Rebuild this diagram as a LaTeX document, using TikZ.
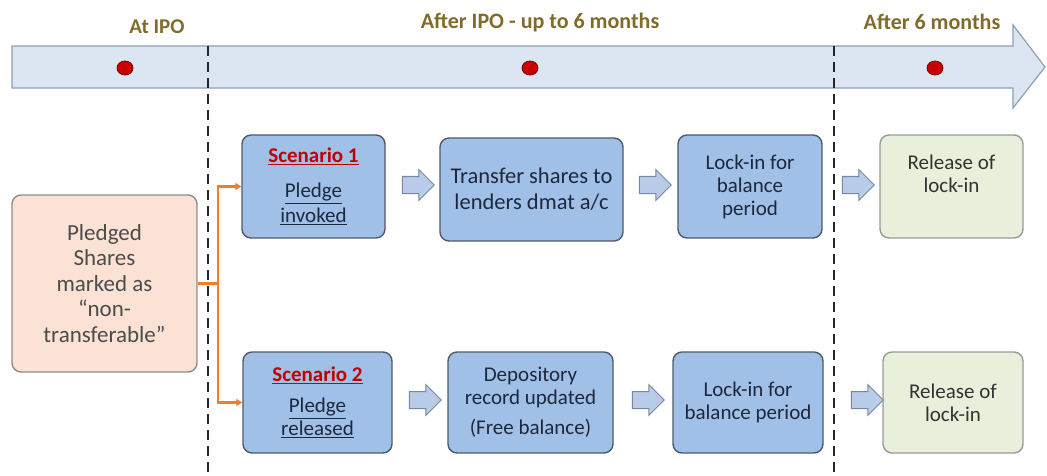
\documentclass[tikz,border=0pt]{standalone}
\usepackage{fontspec}
\setmainfont{Carlito}
\usetikzlibrary{shapes.arrows,arrows.meta}
\definecolor{bandfill}{RGB}{220,230,242}
\definecolor{bandline}{RGB}{140,160,182}
\definecolor{headtxt}{RGB}{128,108,42}
\definecolor{dotred}{RGB}{200,0,0}
\definecolor{boxblue}{RGB}{160,192,232}
\definecolor{boxline}{RGB}{80,90,104}
\definecolor{boxtxt}{RGB}{30,40,60}
\definecolor{peach}{RGB}{251,226,212}
\definecolor{relgreen}{RGB}{232,239,218}
\definecolor{arrfill}{RGB}{184,203,232}
\definecolor{arrline}{RGB}{120,136,160}
\definecolor{scred}{RGB}{192,0,0}
\definecolor{conn}{RGB}{237,125,49}
\begin{document}
\begin{tikzpicture}[x=1pt,y=-1pt,
  stage/.style={draw=boxline,line width=1.4pt,fill=boxblue,rounded corners=9pt,align=center,
    text=boxtxt,font=\fontsize{21}{23}\selectfont,inner sep=2pt},
  release/.style={stage,fill=relgreen,draw=gray!80,text=black!80},
  heading/.style={text=headtxt,font=\fontsize{22}{24}\selectfont\bfseries},
  period/.style={fill=dotred,draw=dotred!60!black,line width=.8pt},
  blockarr/.style={single arrow,draw=arrline,fill=arrfill,line width=1pt,minimum height=32pt,
    inner sep=0pt,inner ysep=8pt,single arrow head extend=7pt,shape border rotate=0},
  split/.style={conn,line width=2.4pt},
  phase/.style={black!85,line width=2.5pt,dash pattern=on 10pt off 6pt}]
\useasboundingbox (0,0) rectangle (1047,476);
% timeline
\draw[fill=bandfill,draw=bandline,line width=1.2pt] (12,46) -- (1013,46) -- (1013,25) -- (1045,67)
  -- (1013,108) -- (1013,88) -- (12,88) -- cycle;
\foreach \x in {125,530,935} {\draw[period] (\x,68) ellipse (8pt and 7pt);}
\node[heading,font=\fontsize{21}{24}\selectfont\bfseries] (atipo) at (157,27) {At IPO};
\node[heading] (afteripo) at (540,23) {After IPO - up to 6 months};
\node[heading] (aftersix) at (932,22) {After 6 months};
\draw[phase] (208,46) -- (208,476);
\draw[phase] (834,46) -- (834,476);
% boxes
\node[stage,draw=gray!90,fill=peach,text=black!70,font=\fontsize{23}{25.5}\selectfont,
  minimum width=185pt,minimum height=177pt] (pledged) at (104.5,283.5)
  {Pledged\\Shares\\marked as\\``non-\\transferable\symbol{34}};
\node[stage,minimum width=143pt,minimum height=103pt] (scenA) at (313.5,186.5)
  {{\color{scred}\bfseries\underline{Scenario 1}}\\[12pt]\underline{Pledge}\\[2pt]\underline{invoked}};
\node[stage,font=\fontsize{22.5}{26}\selectfont,minimum width=183pt,minimum height=103pt] (transA)
  at (531.5,189.5) {Transfer shares to\\lenders dmat a/c};
\node[stage,minimum width=144pt,minimum height=103pt] (lockA) at (750,186.5)
  {Lock-in for\\balance\\period};
\node[release,minimum width=143pt,minimum height=103pt] (relA) at (951.5,186.5)
  {Release of\\lock-in\\[3pt]};
\node[stage,minimum width=149pt,minimum height=101pt] (scenB) at (317.5,402.5)
  {{\color{scred}\bfseries\underline{Scenario 2}}\\[8pt]\underline{Pledge}\\[0pt]\underline{released}};
\node[stage,minimum width=165pt,minimum height=101pt] (deposB) at (530.5,402.5)
  {Depository\\record updated\\[7pt](Free balance)};
\node[stage,minimum width=150pt,minimum height=101pt] (lockB) at (748,402.5)
  {Lock-in for\\balance period};
\node[release,minimum width=140pt,minimum height=101pt] (relB) at (953,402.5)
  {Release of\\lock-in};
% block arrows
\node[blockarr] (arrA1) at (414,185) {};
\node[blockarr] (arrA2) at (651,185) {};
\node[blockarr] (arrA3) at (854,185) {};
\node[blockarr] (arrB1) at (421,400) {};
\node[blockarr] (arrB2) at (644,400) {};
\node[blockarr] (arrB3) at (863,400) {};
% split connector
\coordinate (fork) at (218,283.5);
\draw[split] (pledged.east) -- (fork);
\draw[split,-{Triangle[length=6pt,width=7pt]}] (fork) |- (scenA.west);
\draw[split,-{Triangle[length=6pt,width=7pt]}] (fork) |- (scenB.west);
\end{tikzpicture}
\end{document}
